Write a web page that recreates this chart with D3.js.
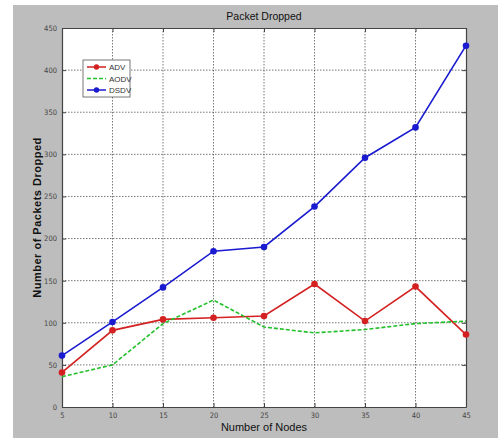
<!DOCTYPE html>
<html>
<head>
<meta charset="utf-8">
<script src="https://cdn.jsdelivr.net/npm/d3@7"></script>
<style>
	body { margin: 0; background: #ffffff; }
	svg text { font-family: "Liberation Sans", Arial, sans-serif; }
	svg .tick text { font-family: "Liberation Sans Narrow", "DejaVu Sans Condensed", sans-serif; }
</style>
</head>
<body>
<div id="chart"></div>
<script>
let nodes = [5, 10, 15, 20, 25, 30, 35, 40, 45];
let adv = [41, 91, 104, 106, 108, 146, 102, 143, 86];
let aodv = [36, 50, 99, 127, 95, 88, 92, 99, 102];
let dsdv = [61, 101, 142, 185, 190, 238, 296, 332, 429];
let yTicks = [0, 50, 100, 150, 200, 250, 300, 350, 400, 450];

let seriesList = [
	{ name: 'ADV', values: adv, color: '#d42020', dash: null, marker: true },
	{ name: 'AODV', values: aodv, color: '#22c02a', dash: '4,2', marker: false },
	{ name: 'DSDV', values: dsdv, color: '#1a1ad0', dash: null, marker: true }
];

let svgWidth = 498
let svgHeight = 438
let padding = { 'left': 62, 'right': 32, 'top': 28, 'bottom': 31 }

let svg = d3.select('#chart').append('svg')
	.attr('width', svgWidth)
	.attr('height', svgHeight)

// grey figure background
svg.append('rect')
	.attr('x', 13)
	.attr('y', 5)
	.attr('width', svgWidth - 13)
	.attr('height', svgHeight - 5)
	.attr('fill', '#bdbdbd')

svg.append('rect')
	.attr('x', padding.left)
	.attr('y', padding.top)
	.attr('width', svgWidth - padding.left - padding.right)
	.attr('height', svgHeight - padding.top - padding.bottom)
	.attr('fill', 'white')

let x = d3.scaleLinear()
	.domain([5, 45])
	.range([padding.left, svgWidth - padding.right]);
let y = d3.scaleLinear()
	.domain([0, 450])
	.range([svgHeight - padding.bottom, padding.top]);

// grid
let grid = svg.append('g').classed('grid', true)
grid.selectAll('.vgrid')
	.data(nodes.slice(1, -1))
	.enter()
	.append('line')
	.attr('x1', d => x(d))
	.attr('x2', d => x(d))
	.attr('y1', padding.top)
	.attr('y2', svgHeight - padding.bottom)
	.attr('stroke', '#555')
	.attr('stroke-width', 0.8)
	.attr('stroke-dasharray', '1.5,1.5')
grid.selectAll('.hgrid')
	.data(yTicks.slice(1, -1))
	.enter()
	.append('line')
	.attr('x1', padding.left)
	.attr('x2', svgWidth - padding.right)
	.attr('y1', d => y(d))
	.attr('y2', d => y(d))
	.attr('stroke', '#555')
	.attr('stroke-width', 0.8)
	.attr('stroke-dasharray', '1.5,1.5')

// axes
let axis_x = d3.axisBottom(x).tickValues(nodes).tickSize(-4).tickSizeOuter(0).tickPadding(6)
let axis_y = d3.axisLeft(y).tickValues(yTicks).tickSize(-4).tickSizeOuter(0).tickPadding(5)

let gx = svg.append('g')
	.attr('transform', `translate(0, ${svgHeight - padding.bottom})`)
	.call(axis_x)
let gy = svg.append('g')
	.attr('transform', `translate(${padding.left}, 0)`)
	.call(axis_y)
// top and right frame ticks
svg.append('g')
	.attr('transform', `translate(0, ${padding.top})`)
	.call(d3.axisTop(x).tickValues(nodes).tickSize(-4).tickSizeOuter(0).tickFormat(''))
svg.append('g')
	.attr('transform', `translate(${svgWidth - padding.right}, 0)`)
	.call(d3.axisRight(y).tickValues(yTicks).tickSize(-4).tickSizeOuter(0).tickFormat(''))

svg.selectAll('.domain').attr('stroke', '#444').attr('stroke-width', 1.2)
svg.selectAll('.tick line').attr('stroke', '#444')
svg.selectAll('.tick text')
	.attr('fill', '#444')
	.style('font-size', '7.5px')

// lines
let line = d3.line()
	.x((d, i) => x(nodes[i]))
	.y(d => y(d));

seriesList.forEach(s => {
	svg.append('path')
		.datum(s.values)
		.attr('fill', 'none')
		.attr('stroke', s.color)
		.attr('stroke-width', 1.6)
		.attr('stroke-dasharray', s.dash)
		.attr('d', line)
	if (s.marker) {
		svg.selectAll('.pt-' + s.name)
			.data(s.values)
			.enter()
			.append('circle')
			.attr('cx', (d, i) => x(nodes[i]))
			.attr('cy', d => y(d))
			.attr('r', 3.3)
			.attr('fill', s.color)
	}
})

// title & labels
svg.append('text')
	.attr('x', (padding.left + svgWidth - padding.right) / 2)
	.attr('y', 20)
	.attr('text-anchor', 'middle')
	.attr('fill', '#111')
	.attr('font-size', '10.5px')
	.text('Packet Dropped')

svg.append('text')
	.attr('x', (padding.left + svgWidth - padding.right) / 2)
	.attr('y', 431)
	.attr('text-anchor', 'middle')
	.attr('fill', '#111')
	.attr('font-size', '11px')
	.text('Number of Nodes')

svg.append('text')
	.attr('transform', `translate(41, ${(padding.top + svgHeight - padding.bottom) / 2}) rotate(-90)`)
	.attr('text-anchor', 'middle')
	.attr('fill', '#111')
	.attr('font-size', '11px')
	.attr('font-weight', '600')
	.attr('letter-spacing', '0.5px')
	.text('Number of Packets Dropped')

// legend
let legend = svg.append('g')
	.attr('transform', 'translate(83, 60)')
legend.append('rect')
	.attr('width', 47)
	.attr('height', 37)
	.attr('fill', 'white')
	.attr('stroke', '#555')
	.attr('stroke-width', 0.8)
let items = legend.selectAll('.legend')
	.data(seriesList)
	.enter()
	.append('g')
	.attr('transform', (d, i) => `translate(0, ${7 + i * 11.5})`)
items.append('line')
	.attr('x1', 4)
	.attr('x2', 23)
	.attr('stroke', d => d.color)
	.attr('stroke-width', 1.5)
	.attr('stroke-dasharray', d => d.dash)
items.filter(d => d.marker)
	.append('circle')
	.attr('cx', 13.5)
	.attr('r', 2.7)
	.attr('fill', d => d.color)
items.append('text')
	.attr('x', 26)
	.attr('y', 3)
	.attr('font-size', '8px')
	.attr('fill', '#333')
	.text(d => d.name)
</script>
</body>
</html>
